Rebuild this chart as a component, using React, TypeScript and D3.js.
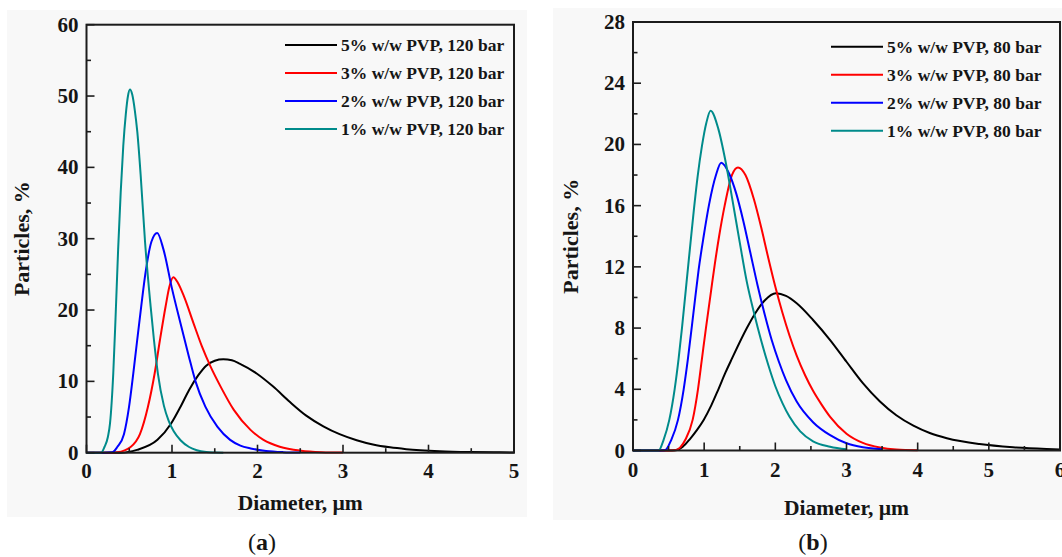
import React from "react";
import * as d3 from "d3";

// ---------- Data ----------
const SERIES_COLORS = ["#000000", "#ff0000", "#0000ff", "#008b8b"];
const LEGEND_A = ["5% w/w PVP, 120 bar", "3% w/w PVP, 120 bar", "2% w/w PVP, 120 bar", "1% w/w PVP, 120 bar"];
const LEGEND_B = ["5% w/w PVP, 80 bar", "3% w/w PVP, 80 bar", "2% w/w PVP, 80 bar", "1% w/w PVP, 80 bar"];

const A_X_TICKS = [0, 1, 2, 3, 4, 5];
const A_Y_TICKS = [0, 10, 20, 30, 40, 50, 60];
const B_X_TICKS = [0, 1, 2, 3, 4, 5, 6];
const B_Y_TICKS = [0, 4, 8, 12, 16, 20, 24, 28];

// Panel (a), 120 bar
const A5_X = [0, 0.4, 0.59, 0.83, 0.99, 1.10, 1.20, 1.31, 1.40, 1.5, 1.6, 1.7, 1.79, 1.99, 2.18, 2.38, 2.57, 2.77, 2.96, 3.16, 3.35, 3.55, 3.74, 4.13, 4.5, 4.83, 5.0];
const A5_Y = [0, 0, 0.4, 1.8, 4.1, 6.45, 8.8, 10.9, 12.2, 12.9, 13.1, 12.95, 12.5, 11.1, 9.3, 7.1, 5.2, 3.7, 2.6, 1.75, 1.15, 0.75, 0.5, 0.22, 0.1, 0.05, 0.03];
const A3_X = [0, 0.3, 0.36, 0.516, 0.625, 0.718, 0.797, 0.859, 0.925, 0.97, 1.014, 1.07, 1.14, 1.25, 1.35, 1.45, 1.567, 1.723, 1.918, 2.07, 2.26, 2.51, 2.75, 3.0];
const A3_Y = [0, 0, 0.05, 0.8, 2.6, 6.4, 11.1, 15.8, 20.5, 23.3, 24.6, 23.8, 21.9, 18.2, 14.9, 12.1, 9.3, 6.0, 3.2, 1.8, 0.84, 0.28, 0.08, 0.02];
const A2_X = [0, 0.2, 0.30, 0.36, 0.438, 0.497, 0.547, 0.593, 0.64, 0.69, 0.76, 0.827, 0.90, 1.0, 1.10, 1.197, 1.275, 1.39, 1.53, 1.68, 1.80, 1.92, 2.1, 2.3, 2.5];
const A2_Y = [0, 0, 0.05, 0.8, 2.6, 6.4, 11.1, 15.8, 20.5, 25.2, 29.6, 30.8, 28.5, 23.0, 18.1, 13.5, 10.0, 6.45, 3.65, 1.8, 1.0, 0.6, 0.25, 0.08, 0.02];
const A1_X = [0, 0.17, 0.21, 0.25, 0.275, 0.313, 0.34, 0.37, 0.40, 0.43, 0.46, 0.485, 0.508, 0.535, 0.565, 0.594, 0.633, 0.685, 0.75, 0.789, 0.835, 0.905, 0.96, 1.02, 1.10, 1.2, 1.29, 1.4, 1.5, 1.6];
const A1_Y = [0, 0, 0.8, 2.2, 4.1, 11.1, 19.0, 28.5, 36.5, 43.0, 47.5, 50.0, 50.9, 50.2, 48.0, 45.0, 39.0, 29.5, 20.5, 15.8, 11.1, 6.6, 4.5, 3.0, 1.75, 0.8, 0.35, 0.1, 0.03, 0];

// Panel (b), 80 bar
const B5_X = [0, 0.5, 0.6, 0.7, 0.8, 0.9, 0.993, 1.1, 1.2, 1.3, 1.39, 1.6, 1.718, 1.85, 2.008, 2.15, 2.3, 2.53, 2.77, 3.0, 3.23, 3.47, 3.7, 3.94, 4.17, 4.41, 4.87, 5.34, 5.81, 6.0];
const B5_Y = [0, 0, 0.02, 0.25, 0.75, 1.35, 2.0, 2.95, 4.0, 5.1, 6.0, 8.0, 8.97, 9.8, 10.27, 10.1, 9.62, 8.53, 7.22, 5.8, 4.4, 3.2, 2.3, 1.62, 1.14, 0.8, 0.42, 0.21, 0.1, 0.07];
const B3_X = [0, 0.4, 0.59, 0.735, 0.838, 0.913, 0.969, 1.025, 1.096, 1.147, 1.21, 1.288, 1.39, 1.475, 1.58, 1.7, 1.8, 1.9, 2.0, 2.1, 2.2, 2.3, 2.42, 2.53, 2.65, 2.77, 3.0, 3.23, 3.47, 3.7, 4.0];
const B3_Y = [0, 0, 0.02, 0.7, 2, 4, 6, 8, 10.4, 12.1, 14, 16, 18, 18.5, 18.0, 16.4, 14.6, 12.6, 10.7, 9.0, 7.5, 6.2, 4.9, 3.9, 3.0, 2.2, 1.1, 0.5, 0.2, 0.07, 0.02];
const B2_X = [0, 0.3, 0.45, 0.538, 0.632, 0.712, 0.772, 0.829, 0.875, 0.922, 0.993, 1.07, 1.166, 1.24, 1.35, 1.45, 1.55, 1.65, 1.75, 1.85, 1.95, 2.05, 2.15, 2.3, 2.53, 2.77, 3.0, 3.23, 3.5];
const B2_Y = [0, 0, 0.02, 0.7, 2, 4, 6, 8.2, 10.0, 11.8, 14.0, 16.1, 18.0, 18.8, 18.1, 16.8, 15.0, 12.9, 10.8, 8.9, 7.2, 5.8, 4.6, 3.2, 1.85, 1.0, 0.47, 0.21, 0.08];
const B1_X = [0, 0.36, 0.43, 0.51, 0.585, 0.641, 0.688, 0.744, 0.772, 0.815, 0.857, 0.908, 0.969, 1.03, 1.09, 1.2, 1.3, 1.4, 1.5, 1.6, 1.7, 1.8, 1.9, 2.0, 2.1, 2.2, 2.35, 2.53, 2.77, 3.0];
const B1_Y = [0, 0, 0.7, 2, 4, 6, 8, 10.6, 11.9, 13.9, 15.8, 17.9, 19.9, 21.4, 22.2, 21.0, 18.9, 16.3, 13.6, 11.0, 9.0, 7.2, 5.6, 4.2, 3.1, 2.2, 1.25, 0.6, 0.25, 0.08];

const SERIES_A = [[A5_X, A5_Y], [A3_X, A3_Y], [A2_X, A2_Y], [A1_X, A1_Y]];
const SERIES_B = [[B5_X, B5_Y], [B3_X, B3_Y], [B2_X, B2_Y], [B1_X, B1_Y]];

const FONT = "'Liberation Serif', 'Times New Roman', serif";
const TXT = "#151515";

type PanelProps = {
  left: number; right: number; top: number; bottom: number;
  xMax: number; yMax: number; xTicks: number[]; yTicks: number[];
  yMinorStep: number; series: number[][][]; legend: string[];
  legendTop: number; xLabelY: number; xTitleY: number; yTitleX: number;
  caption: string; captionX: number;
};

function Panel(p: PanelProps) {
  const x = d3.scaleLinear().domain([0, p.xMax]).range([p.left, p.right]);
  const y = d3.scaleLinear().domain([0, p.yMax]).range([p.bottom, p.top]);
  const line = d3.line<[number, number]>().x((d) => x(d[0])).y((d) => y(d[1])).curve(d3.curveMonotoneX);
  const xMinor = d3.range(0.5, p.xMax, 1);
  const yMinor = d3.range(p.yMinorStep, p.yMax, p.yMinorStep * 2);
  const cx = (p.left + p.right) / 2;
  const cy = (p.top + p.bottom) / 2;
  return (
    <g>
      {p.series.map(([xs, ys], i) => (
        <path key={i} d={line(xs.map((v, j) => [v, ys[j]] as [number, number])) || ""}
          fill="none" stroke={SERIES_COLORS[i]} strokeWidth={2} />
      ))}
      <rect x={p.left} y={p.top} width={p.right - p.left} height={p.bottom - p.top}
        fill="none" stroke="#1c1c1c" strokeWidth={2} />
      {p.xTicks.map((t) => (
        <g key={"xt" + t}>
          <line x1={x(t)} x2={x(t)} y1={p.bottom} y2={p.bottom - 8} stroke="#1c1c1c" strokeWidth={1.6} />
          <text x={x(t)} y={p.xLabelY} textAnchor="middle" fontFamily={FONT} fontWeight="bold" fontSize={21} fill={TXT}>{t}</text>
        </g>
      ))}
      {xMinor.map((t) => (
        <line key={"xm" + t} x1={x(t)} x2={x(t)} y1={p.bottom} y2={p.bottom - 4.5} stroke="#1c1c1c" strokeWidth={1.6} />
      ))}
      {p.yTicks.map((t) => (
        <g key={"yt" + t}>
          <line x1={p.left} x2={p.left + 8} y1={y(t)} y2={y(t)} stroke="#1c1c1c" strokeWidth={1.6} />
          <text x={p.left - 8} y={y(t) + 7} textAnchor="end" fontFamily={FONT} fontWeight="bold" fontSize={21} fill={TXT}>{t}</text>
        </g>
      ))}
      {yMinor.map((t) => (
        <line key={"ym" + t} x1={p.left} x2={p.left + 4.5} y1={y(t)} y2={y(t)} stroke="#1c1c1c" strokeWidth={1.6} />
      ))}
      <text x={cx} y={p.xTitleY} textAnchor="middle" fontFamily={FONT} fontWeight="bold" fontSize={21.5} fill={TXT}>Diameter, µm</text>
      <text transform={`translate(${p.yTitleX},${cy}) rotate(-90)`} textAnchor="middle" fontFamily={FONT} fontWeight="bold" fontSize={22} fill={TXT}>Particles, %</text>
      {p.legend.map((s, i) => {
        const ly = p.legendTop + i * 28;
        return (
          <g key={"lg" + i}>
            <line x1={p.right - 229} x2={p.right - 177} y1={ly} y2={ly} stroke={SERIES_COLORS[i]} strokeWidth={2} />
            <text x={p.right - 173} y={ly + 6} fontFamily={FONT} fontWeight="bold" fontSize={17.5} fill={TXT}>{s}</text>
          </g>
        );
      })}
      <text x={p.captionX} y={550} textAnchor="middle" fontFamily={FONT} fontSize={24} fill={TXT}>
        (<tspan fontWeight="bold">{p.caption}</tspan>)
      </text>
    </g>
  );
}

export default function App() {
  return (
    <svg width={1062} height={557} style={{ position: "absolute", left: 0, top: 0, background: "#ffffff" }}>
      <rect x={7} y={10} width={520} height={507} fill="#f8f8f8" />
      <rect x={553} y={8} width={509} height={512} fill="#f8f8f8" />
      <Panel left={86.5} right={514} top={24.7} bottom={452.7} xMax={5} yMax={60}
        xTicks={A_X_TICKS} yTicks={A_Y_TICKS} yMinorStep={5} series={SERIES_A} legend={LEGEND_A}
        legendTop={45} xLabelY={478} xTitleY={510} yTitleX={29} caption="a" captionX={262} />
      <Panel left={633} right={1060} top={22} bottom={450.5} xMax={6} yMax={28}
        xTicks={B_X_TICKS} yTicks={B_Y_TICKS} yMinorStep={2} series={SERIES_B} legend={LEGEND_B}
        legendTop={46.7} xLabelY={477} xTitleY={515} yTitleX={578} caption="b" captionX={813} />
    </svg>
  );
}
